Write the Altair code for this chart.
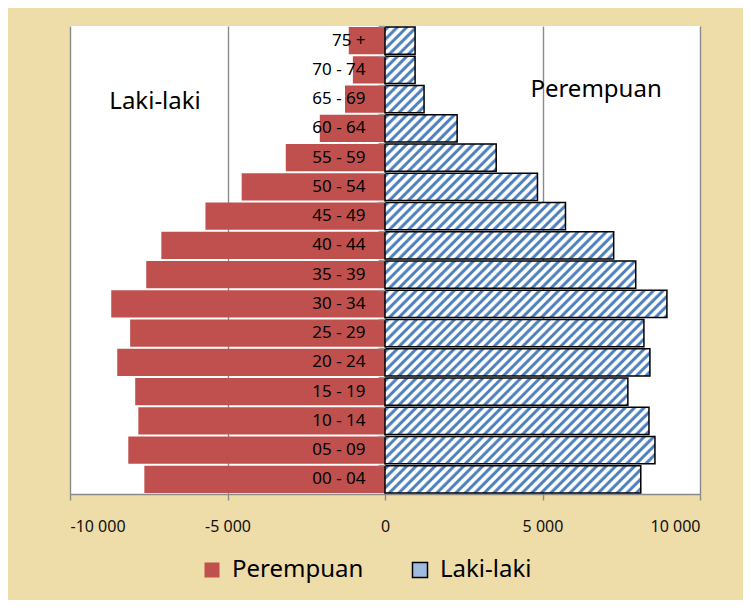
import altair as alt
import pandas as pd

# ---- data ----
age_groups = ["00 - 04", "05 - 09", "10 - 14", "15 - 19", "20 - 24", "25 - 29",
              "30 - 34", "35 - 39", "40 - 44", "45 - 49", "50 - 54", "55 - 59",
              "60 - 64", "65 - 69", "70 - 74", "75 +"]
perempuan = [7640, 8150, 7830, 7930, 8500, 8090, 8690, 7580, 7100, 5700,
             4550, 3150, 2070, 1270, 1020, 1150]
laki_laki = [8120, 8570, 8380, 7710, 8410, 8220, 8950, 7960, 7260, 5730,
             4840, 3530, 2290, 1240, 955, 955]
x_ticks = [-10000, -5000, 0, 5000, 10000]
series_names = ["Perempuan", "Laki-laki"]

FONT = "Noto Sans"
RED = "#C0504D"
BLUE = "#4F81BD"
W_PLOT, H_PLOT = 630, 468
X_MIN, X_MAX = -10000, 10000
order = list(reversed(age_groups))

rows = []
for g, p, l in zip(age_groups, perempuan, laki_laki):
    rows.append({"age": g, "sex": "Perempuan", "start": 0, "end": -p})
    rows.append({"age": g, "sex": "Laki-laki", "start": 0, "end": l})
df = pd.DataFrame(rows)

xscale = alt.Scale(domain=[X_MIN, X_MAX], nice=False, zero=False)
yscale = alt.Scale(paddingInner=0.06, paddingOuter=0.03)

x_enc = alt.X("start:Q", scale=xscale,
              axis=alt.Axis(values=x_ticks, title=None, grid=True, gridColor="#8a8a8a",
                            gridWidth=1.4, tickColor="#8a8a8a", tickSize=6, tickWidth=1.4,
                            domainColor="#8a8a8a", domainWidth=1.4,
                            labelFontSize=16, labelFont=FONT, labelColor="#111",
                            labelPadding=18,
                            labelExpr="replace(replace(format(datum.value, ','), ',', ' '), '\u2212', '-')"))
y_enc = alt.Y("age:N", sort=order, scale=yscale,
              axis=alt.Axis(title=None, offset=-W_PLOT / 2, bandPosition=0,
                            tickColor="#9a9a9a", tickSize=7, tickWidth=1.4, domain=False,
                            labelFontSize=17, labelFont=FONT, labelColor="#000",
                            labelPadding=13, zindex=1, grid=False))

base = alt.Chart(df).mark_bar().encode(
    x=x_enc,
    x2="end:Q",
    y=y_enc,
    fill=alt.Fill("sex:N",
                  scale=alt.Scale(domain=series_names, range=[RED, "#9fbbe0"]),
                  legend=alt.Legend(title=None, orient="none", direction="horizontal",
                                    legendX=130, legendY=532,
                                    symbolType="square", symbolSize=225,
                                    symbolStrokeWidth=1.5,
                                    symbolStrokeColor=alt.ExprRef(
                                        "datum.label == 'Laki-laki' ? '#000000' : 'transparent'"),
                                    labelFontSize=24, labelFont=FONT, labelColor="#000",
                                    labelOffset=8, columnPadding=44)),
)

# striped (hatched) bars for Laki-laki, one gradient per bar
step = H_PLOT / (len(age_groups) - 0.06 + 2 * 0.03)
bar_h = step * (1 - 0.06)
px_per_unit = W_PLOT / (X_MAX - X_MIN)
period = 9.5
stripe_layers = []
for g, l in zip(age_groups, laki_laki):
    W = l * px_per_unit
    H = bar_h
    r = H / W
    s = (1 + r) / (1 + r * r)
    total = W + H
    p = period / total
    stops = []
    k = 0
    while k * p < 1:
        o = k * p
        for frac, col in [(0.0, "#ffffff"), (0.12, "#9fbbe0"), (0.2, BLUE), (0.46, BLUE),
                          (0.56, "#a9c2e3"), (0.64, "#ffffff")]:
            off = o + frac * p
            if off <= 1:
                stops.append({"offset": round(off, 5), "color": col})
        k += 1
    grad = {"gradient": "linear", "x1": 0, "y1": 0, "x2": s, "y2": s * r, "stops": stops}
    layer = alt.Chart(df).transform_filter(
        (alt.datum.age == g) & (alt.datum.sex == "Laki-laki")
    ).mark_bar(fill=grad, stroke="#000", strokeWidth=1.5).encode(
        x=alt.X("start:Q", scale=xscale), x2="end:Q", y=alt.Y("age:N", sort=order, scale=yscale)
    )
    stripe_layers.append(layer)

ann_df = pd.DataFrame({"label": ["Laki-laki", "Perempuan"], "xpos": [-7300, 6700], "ypx": [102, 90]})
ann = alt.Chart(ann_df).mark_text(font=FONT, fontSize=24, color="#000", baseline="middle").encode(
    x=alt.X("xpos:Q", scale=xscale), y=alt.Y("ypx:Q", scale=None), text="label:N"
)
ann = ann.transform_calculate(ypx="datum.ypx - 26")

chart = alt.layer(base, *stripe_layers, ann).properties(
    width=W_PLOT, height=H_PLOT,
    autosize=alt.AutoSizeParams(type="none"),
    padding={"left": 62, "top": 18, "right": 43, "bottom": 106},
    background="#EEDCA9",
).configure_view(fill="white", stroke=None)

chart.save("out.html", embed_options={"renderer": "svg", "actions": False})
